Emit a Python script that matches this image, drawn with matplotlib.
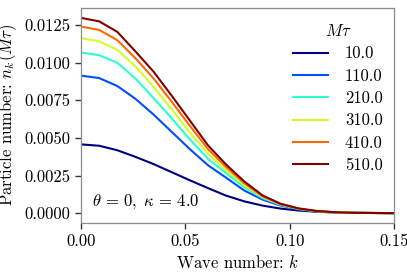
import matplotlib
matplotlib.use('Agg')
from matplotlib import pyplot as plt
import numpy as np

plt.rcParams['font.family'] = 'serif'
plt.rcParams['font.serif'] = ['cmr10', 'DejaVu Serif']
plt.rcParams['mathtext.fontset'] = 'cm'
plt.rcParams['axes.formatter.use_mathtext'] = True
plt.rcParams['font.size'] = 12

# wave numbers sampled on the lattice
k = [0.0000, 0.0087, 0.0174, 0.0261, 0.0348, 0.0435, 0.0522, 0.0609, 0.0696,
     0.0783, 0.0870, 0.0957, 0.1044, 0.1131, 0.1218, 0.1305, 0.1392, 0.1479, 0.1566]

times = ['10.0', '110.0', '210.0', '310.0', '410.0', '510.0']

n_10 = [0.00457, 0.00448, 0.00418, 0.00374, 0.00326, 0.00272, 0.00218, 0.00166, 0.00116,
        0.00078, 0.00050, 0.00030, 0.00017, 0.00009, 0.00004, 0.00002, 0.00001, 0.0, 0.0]
n_110 = [0.00914, 0.00898, 0.00845, 0.00760, 0.00655, 0.00540, 0.00425, 0.00318, 0.00235,
         0.00150, 0.00090, 0.00050, 0.00025, 0.00011, 0.00005, 0.00002, 0.00001, 0.0, 0.0]
n_210 = [0.01068, 0.01050, 0.01000, 0.00895, 0.00765, 0.00630, 0.00490, 0.00360, 0.00265,
         0.00172, 0.00100, 0.00055, 0.00027, 0.00012, 0.00005, 0.00002, 0.00001, 0.0, 0.0]
n_310 = [0.01163, 0.01143, 0.01085, 0.00975, 0.00840, 0.00690, 0.00535, 0.00395, 0.00285,
         0.00186, 0.00108, 0.00058, 0.00029, 0.00013, 0.00005, 0.00002, 0.00001, 0.0, 0.0]
n_410 = [0.01240, 0.01218, 0.01150, 0.01030, 0.00895, 0.00740, 0.00580, 0.00425, 0.00305,
         0.00198, 0.00112, 0.00059, 0.00030, 0.00013, 0.00006, 0.00002, 0.00001, 0.0, 0.0]
n_510 = [0.01298, 0.01275, 0.01205, 0.01075, 0.00940, 0.00780, 0.00615, 0.00450, 0.00322,
         0.00210, 0.00118, 0.00062, 0.00031, 0.00014, 0.00006, 0.00002, 0.00001, 0.0, 0.0]

series = [n_10, n_110, n_210, n_310, n_410, n_510]

fig = plt.figure(figsize=(4.07, 2.8), dpi=100)
ax = fig.add_axes([0.199, 0.204, 0.769, 0.767])

colors = plt.cm.jet(np.linspace(0, 1, len(series)))
for vals, lab, c in zip(series, times, colors):
    ax.plot(k, vals, color=c, lw=1.5, label=lab)

ax.set_xlim(0, 0.15)
ax.set_xticks([0.0, 0.05, 0.10, 0.15])
ax.set_xticklabels(['0.00', '0.05', '0.10', '0.15'])
ax.set_yticks([0.0, 0.0025, 0.005, 0.0075, 0.01, 0.0125])
ax.set_yticklabels(['0.0000', '0.0025', '0.0050', '0.0075', '0.0100', '0.0125'])

for s in ax.spines.values():
    s.set_color('#8c8c8c')
    s.set_linewidth(0.9)
ax.tick_params(direction='out', length=4, width=1, color='#333333')

ax.set_xlabel('Wave number: $k$')
ax.set_ylabel(r'Particle number: $n_k(M\tau)$')
ax.text(0.035, 0.098, r'$\theta\,=\,0,\;\kappa\,=\,4.0$', transform=ax.transAxes,
        va='center', ha='left', fontsize=12)

ax.legend(title=r'$M\tau$', frameon=False, loc='upper right',
          bbox_to_anchor=(1.012, 1.0), handlelength=2.1, handletextpad=1.0,
          labelspacing=0.42, fontsize=12, title_fontsize=12)

fig.savefig('out.png', dpi=100)
